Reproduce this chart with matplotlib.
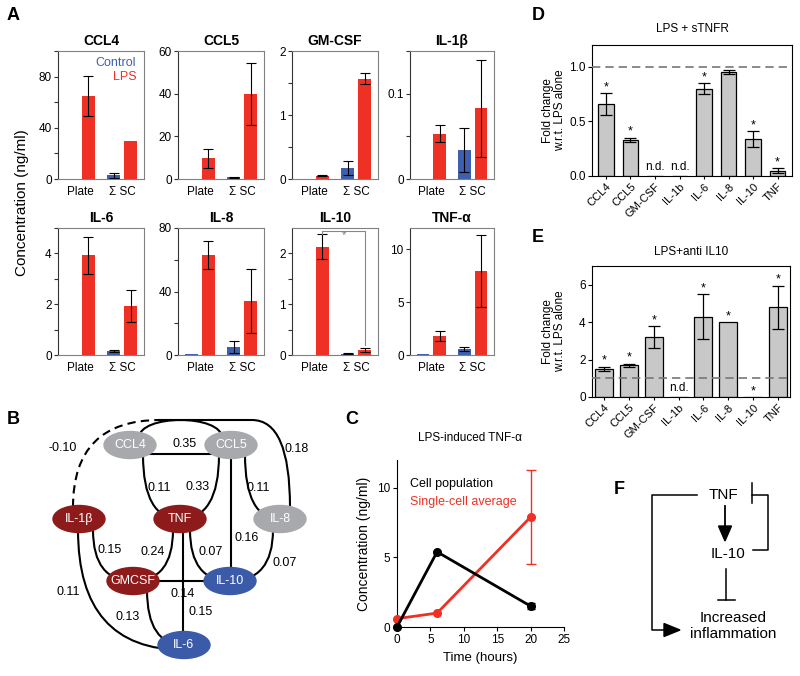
import numpy as np
import matplotlib
matplotlib.use('Agg')
import matplotlib.pyplot as plt
from matplotlib.patches import Ellipse, PathPatch
from matplotlib.path import Path

plt.rcParams['font.family'] = ['Liberation Sans', 'DejaVu Sans']
plt.rcParams['axes.linewidth'] = 0.8
plt.rcParams['xtick.major.width'] = 0.8
plt.rcParams['ytick.major.width'] = 0.8
plt.rcParams['ytick.minor.width'] = 0.8

RED = '#ee3124'
BLUE = '#3d5fb0'
W, H = 800, 676

# A: cytokines, plate vs summed single cells (control / LPS)
cytokines = ['CCL4', 'CCL5', 'GM-CSF', 'IL-1β', 'IL-6', 'IL-8', 'IL-10', 'TNF-α']
conditions = ['Plate', 'Σ SC']
ctrl_mean = [[0, 3.0], [0, 0.8], [0, 0.17], [0, 0.034], [0, 0.15], [0.5, 5.0], [0, 0.02], [0.05, 0.6]]
ctrl_err = [[0, 2.0], [0, 0.3], [0, 0.11], [0, 0.026], [0, 0.03], [0, 4.0], [0, 0.01], [0, 0.2]]
lps_mean = [[65, 29.5], [9.7, 40], [0.05, 1.57], [0.053, 0.083], [3.92, 1.92], [63, 34], [2.13, 0.09], [1.8, 7.9]]
lps_err = [[15.5, 0], [4.4, 14.5], [0.005, 0.08], [0.01, 0.057], [0.73, 0.63], [9, 20], [0.25, 0.04], [0.45, 3.4]]
a_ymax = [100, 60, 2, 0.15, 5, 80, 2.5, 12]
a_major = [[0, 40, 80], [0, 20, 40, 60], [0, 1, 2], [0, 0.1], [0, 2, 4], [0, 40, 80], [0, 1, 2], [0, 5, 10]]
a_minor = [[20, 60, 100], [], [0.5, 1.5], [0.05, 0.15], [1, 3, 5], [20, 60], [0.5, 1.5], []]

# C: LPS-induced TNF time course
hours = [0, 6, 20]
pop_tnf = [0, 5.4, 1.5]
pop_err = [0, 0, 0.2]
sc_tnf = [0.6, 1.0, 7.9]
sc_err = [0, 0, 3.4]

# D / E: fold change w.r.t. LPS alone
fold_cats = ['CCL4', 'CCL5', 'GM-CSF', 'IL-1b', 'IL-6', 'IL-8', 'IL-10', 'TNF']
stnfr_mean = [0.66, 0.33, np.nan, np.nan, 0.80, 0.95, 0.34, 0.05]
stnfr_err = [0.10, 0.02, np.nan, np.nan, 0.05, 0.02, 0.07, 0.02]
stnfr_sig = [1, 1, 0, 0, 1, 0, 1, 1]
anti_mean = [1.5, 1.7, 3.2, np.nan, 4.3, 4.0, 0.0, 4.8]
anti_err = [0.12, 0.08, 0.58, np.nan, 1.18, 0.0, 0.0, 1.15]
anti_sig = [1, 1, 1, 0, 1, 1, 1, 1]

# B: correlation network
node_names = ['CCL4', 'CCL5', 'IL-1β', 'TNF', 'IL-8', 'GMCSF', 'IL-10', 'IL-6']
node_colors = ['#a7a9ac', '#a7a9ac', '#8e1b1b', '#8e1b1b', '#a7a9ac', '#8e1b1b', '#3b5ba9', '#3b5ba9']
edge_labels = ['-0.10', '0.35', '0.18', '0.11', '0.33', '0.11', '0.16',
               '0.15', '0.24', '0.07', '0.07', '0.15', '0.14', '0.13', '0.11']

fig = plt.figure(figsize=(W / 100, H / 100), dpi=100)

# overlay in pixel coordinates for diagrams and labels
ov = fig.add_axes([0, 0, 1, 1])
ov.set_xlim(0, W)
ov.set_ylim(H, 0)
ov.axis('off')


def px_axes(x0, y0, x1, y1):
    return fig.add_axes([x0 / W, 1 - y1 / H, (x1 - x0) / W, (y1 - y0) / H])


def draw_path(pts, codes, **kw):
    cm = {'M': Path.MOVETO, 'L': Path.LINETO, 'Q': Path.CURVE3, 'C': Path.CURVE4}
    ov.add_patch(PathPatch(Path(pts, [cm[c] for c in codes]), fill=False, **kw))


# ---- panel A ----
a_cols = [(58, 144), (178, 264), (292, 378), (410, 494)]
a_rows = [(51, 179), (228, 355)]
x = np.arange(2)
for k, name in enumerate(cytokines):
    x0, x1 = a_cols[k % 4]
    y0, y1 = a_rows[k // 4]
    ax = px_axes(x0, y0, x1, y1)
    ax.bar(x - 0.2, ctrl_mean[k], 0.3, color=BLUE)
    ax.bar(x + 0.2, lps_mean[k], 0.3, color=RED)
    for dx, ms, es in ((-0.2, ctrl_mean[k], ctrl_err[k]), (0.2, lps_mean[k], lps_err[k])):
        for xi, m, e in zip(x + dx, ms, es):
            if e > 0:
                ax.errorbar(xi, m, yerr=e, fmt='none', ecolor='black',
                            elinewidth=0.8, capsize=3.5, capthick=0.8)
    ax.set_xlim(-0.52, 1.52)
    ax.set_ylim(0, a_ymax[k])
    ax.set_yticks(a_major[k])
    ax.set_yticklabels(['%g' % v for v in a_major[k]])
    ax.set_yticks(a_minor[k], minor=True)
    ax.set_xticks(x)
    ax.set_xticklabels(conditions)
    ax.tick_params(axis='x', length=0, pad=5, labelsize=8.5)
    ax.tick_params(axis='y', which='both', length=3, pad=1.5, labelsize=8.5, color='#333')
    for s in ax.spines.values():
        s.set_color('#808080')
    ax.spines['left'].set_color('#333')
    ax.set_title(name, fontweight='bold', fontsize=10, pad=4)
    if name == 'CCL4':
        ax.text(0.91, 0.905, 'Control', color=BLUE, ha='right', va='center',
                fontsize=9, transform=ax.transAxes)
        ax.text(0.91, 0.795, 'LPS', color=RED, ha='right', va='center',
                fontsize=9, transform=ax.transAxes)
    if name == 'IL-10':
        ax.plot([0.2, 0.2, 1.2, 1.2], [2.38, 2.44, 2.44, 0.2], color='#888', lw=0.8)
        ax.text(0.72, 2.36, '*', color='#777', ha='center', va='center', fontsize=8)

ov.text(22, 203, 'Concentration (ng/ml)', rotation=90, ha='center', va='center', fontsize=11)


# ---- panels D, E ----
def fold_panel(box, means, errs, sig, width, xlim, ymax, yticks, fmt, title, tpad):
    ax = px_axes(*box)
    xi = np.arange(len(fold_cats))
    m = np.array(means, float)
    e = np.array(errs, float)
    ax.bar(xi, np.nan_to_num(m), width, color='#c8c8c8', edgecolor='black', lw=0.9)
    ok = ~np.isnan(m) & (np.nan_to_num(e) > 0)
    ax.errorbar(xi[ok], m[ok], yerr=e[ok], fmt='none', ecolor='black',
                elinewidth=0.9, capsize=4, capthick=0.9)
    ax.axhline(1.0, color='#777', ls=(0, (5, 3)), lw=1.2, zorder=3)
    for i in xi:
        if np.isnan(m[i]):
            ax.annotate('n.d.', (i, 0), xytext=(0, 2), textcoords='offset points',
                        ha='center', va='bottom', fontsize=8.5)
        elif sig[i]:
            top = m[i] + np.nan_to_num(e[i])
            ax.annotate('*', (i, top), xytext=(0, 0), textcoords='offset points',
                        ha='center', va='bottom', fontsize=9)
    ax.set_xlim(*xlim)
    ax.set_ylim(0, ymax)
    ax.set_yticks(yticks)
    ax.set_yticklabels([fmt % v for v in yticks])
    ax.set_xticks(xi)
    ax.set_xticklabels(fold_cats, rotation=45, ha='right', rotation_mode='anchor')
    ax.tick_params(axis='x', length=2, pad=2, labelsize=8)
    ax.tick_params(axis='y', length=3, pad=1.5, labelsize=8.5)
    ax.set_ylabel('Fold change\nw.r.t. LPS alone', fontsize=8.5, linespacing=1.05)
    ax.yaxis.set_label_coords(-0.13, 0.5)
    ax.set_title(title, fontsize=8.5, pad=tpad)
    return ax


fold_panel((592, 45, 792, 176), stnfr_mean, stnfr_err, stnfr_sig, 0.62, (-0.57, 7.59),
           1.2, [0, 0.5, 1.0], '%.1f', 'LPS + sTNFR', 9)
fold_panel((592, 266, 790, 397), anti_mean, anti_err, anti_sig, 0.72, (-0.48, 7.48),
           7, [0, 2, 4, 6], '%d', 'LPS+anti IL10', 8)

# ---- panel C ----
axc = px_axes(397, 460, 564, 627)
axc.plot(hours, pop_tnf, color='black', lw=2, marker='o', ms=5.5, clip_on=False, zorder=4)
axc.errorbar(hours[2], pop_tnf[2], yerr=pop_err[2], fmt='none', ecolor='black',
             elinewidth=1, capsize=3, zorder=4)
axc.plot(hours, sc_tnf, color=RED, lw=2, marker='o', ms=5.5, clip_on=False, zorder=3)
axc.errorbar(hours[2], sc_tnf[2], yerr=sc_err[2], fmt='none', ecolor=RED,
             elinewidth=1, capsize=3.5, zorder=3)
axc.set_xlim(0, 25)
axc.set_ylim(0, 12)
axc.set_xticks([0, 5, 10, 15, 20, 25])
axc.set_yticks([0, 5, 10])
axc.spines['top'].set_visible(False)
axc.spines['right'].set_visible(False)
axc.tick_params(length=3, pad=2, labelsize=8.5)
axc.set_xlabel('Time (hours)', fontsize=9.5, labelpad=4)
axc.set_ylabel('Concentration (ng/ml)', fontsize=10, labelpad=4)
axc.set_title('LPS-induced TNF-α', fontsize=8.5, pad=14, x=0.44)
axc.text(2.0, 10.3, 'Cell population', color='black', fontsize=9, va='center')
axc.text(2.0, 9.0, 'Single-cell average', color=RED, fontsize=9, va='center')

# ---- panel B ----
node_xy = {'CCL4': (130, 445), 'CCL5': (231, 445), 'IL-1β': (79, 519), 'TNF': (180, 519),
           'IL-8': (280, 519), 'GMCSF': (133, 581), 'IL-10': (230, 581), 'IL-6': (184, 645)}
edge_paths = [
    ([(73, 507), (73, 420), (160, 420)], 'MQQ', True),
    ([(130, 454), (231, 454)], 'ML', False),
    ([(158, 420), (252, 420), (290, 420), (290, 507)], 'MLQQ', False),
    ([(143, 455), (143, 519), (180, 519)], 'MQQ', False),
    ([(219, 455), (219, 519), (180, 519)], 'MQQ', False),
    ([(245, 455), (245, 519), (280, 519)], 'MQQ', False),
    ([(231, 445), (231, 581)], 'ML', False),
    ([(93, 530), (93, 581), (133, 581)], 'MQQ', False),
    ([(173, 530), (173, 581), (133, 581)], 'MQQ', False),
    ([(190, 530), (190, 581), (230, 581)], 'MQQ', False),
    ([(273, 530), (273, 581), (230, 581)], 'MQQ', False),
    ([(183, 519), (183, 645)], 'ML', False),
    ([(133, 581), (230, 581)], 'ML', False),
    ([(147, 590), (147, 645), (184, 645)], 'MQQ', False),
    ([(78, 530), (78, 650), (184, 650)], 'MQQ', False),
]
edge_label_xy = [(63, 448), (185, 444), (297, 449), (159, 488), (198, 487), (258, 488),
                 (247, 538), (110, 550), (153, 552), (211, 552), (285, 563), (201, 612),
                 (183, 594), (128, 617), (68, 592)]
# top loop joining CCL4 and CCL5
draw_path([(139, 438), (139, 414), (222, 414), (222, 438)], 'MCCC', color='black', lw=1.5, zorder=1)
for pts, codes, dashed in edge_paths:
    draw_path(pts, codes, color='black', lw=1.5, zorder=1,
              ls=(0, (4, 2.5)) if dashed else '-')
for lab, (lx, ly) in zip(edge_labels, edge_label_xy):
    ov.text(lx, ly, lab, ha='center', va='center', fontsize=9)
for name, col in zip(node_names, node_colors):
    nx, ny = node_xy[name]
    ov.add_patch(Ellipse((nx, ny), 52, 27, color=col, zorder=2))
    ov.text(nx, ny, name, color='white', ha='center', va='center', fontsize=9, zorder=3)

# ---- panel F ----
ov.text(723, 495, 'TNF', ha='center', va='center', fontsize=11)
ov.text(728, 554, 'IL-10', ha='center', va='center', fontsize=11)
ov.text(733, 626, 'Increased\ninflammation', ha='center', va='center', fontsize=11,
        linespacing=1.15)
ov.plot([725, 725], [506, 528], color='black', lw=1.3)
ov.add_patch(plt.Polygon([(718.5, 526), (731.5, 526), (725, 541)], color='black', zorder=3))
ov.plot([726, 726], [569, 600], color='black', lw=1.1)
ov.plot([718, 735], [600, 600], color='black', lw=1.1)
ov.plot([753, 768, 768, 752], [550, 550, 495, 495], color='black', lw=1.1)
ov.plot([752, 752], [483, 503], color='black', lw=1.1)
ov.plot([697, 652, 652, 666], [495, 495, 630, 630], color='black', lw=1.1)
ov.add_patch(plt.Polygon([(664, 623.5), (664, 636.5), (680, 630)], color='black', zorder=3))

# panel letters
for letter, (lx, ly) in zip('ABCDEF', [(13, 15), (13, 420), (352, 420), (538, 15), (538, 238), (619, 489)]):
    ov.text(lx, ly, letter, ha='center', va='center', fontsize=13, fontweight='bold')

fig.savefig('out.png', dpi=100)
